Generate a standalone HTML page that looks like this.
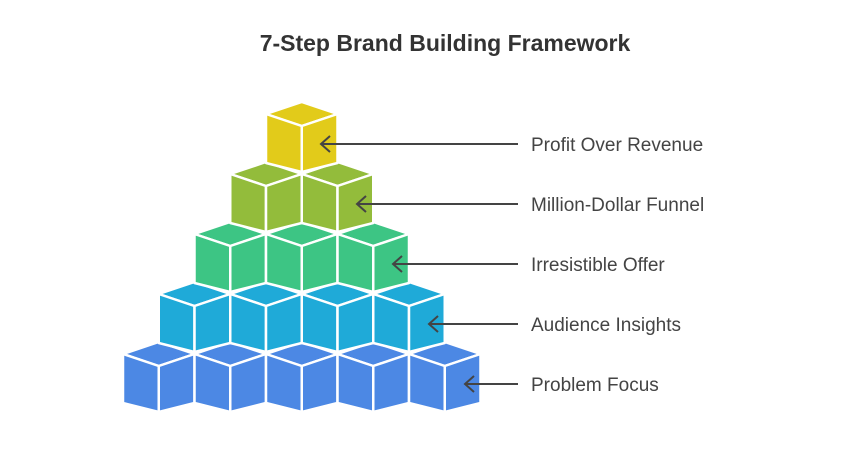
<!DOCTYPE html>
<html><head><meta charset="utf-8"><style>
html,body{margin:0;padding:0;background:#fff;}
svg{display:block;}
text{font-family:"Liberation Sans",sans-serif;}
</style></head><body>
<svg id="s" width="843" height="462" viewBox="0 0 843 462" xmlns="http://www.w3.org/2000/svg">
<text x="445" y="51" text-anchor="middle" font-size="23" font-weight="bold" fill="#333">7-Step Brand Building Framework</text>
<g id="cubes"></g>
<g stroke="#444" stroke-width="2" fill="none">
<line x1="321" y1="144" x2="518" y2="144"/><polyline points="330,136 321,144 330,152"/>
<line x1="357" y1="204" x2="518" y2="204"/><polyline points="366,196 357,204 366,212"/>
<line x1="393" y1="264" x2="518" y2="264"/><polyline points="402,256 393,264 402,272"/>
<line x1="429" y1="324" x2="518" y2="324"/><polyline points="438,316 429,324 438,332"/>
<line x1="465" y1="384" x2="518" y2="384"/><polyline points="474,376 465,384 474,392"/>
</g>
<g font-size="19" fill="#444">
<text x="531" y="151">Profit Over Revenue</text>
<text x="531" y="211">Million-Dollar Funnel</text>
<text x="531" y="271">Irresistible Offer</text>
<text x="531" y="331">Audience Insights</text>
<text x="531" y="391">Problem Focus</text>
</g>
</svg>
<script>
var colors=["#E2CB1A","#93BC3B","#3DC584","#1FAAD8","#4C88E4"];
var g=document.getElementById("cubes"),h="";
var W=71.5,hw=W/2;
for(var i=4;i>=0;i--){
 var y=102+60*i,x0=266-hw*i,c=colors[i];
 for(var j=0;j<=i;j++){
  var x=x0+W*j,m=x+hw,r=x+W;
  var p=function(pts){h+='<polygon points="'+pts+'" fill="'+c+'" stroke="#fff" stroke-width="2.5" stroke-linejoin="round"/>';};
  p(x+","+(y+12)+" "+m+","+y+" "+r+","+(y+12)+" "+m+","+(y+24));
  p(x+","+(y+12)+" "+m+","+(y+24)+" "+m+","+(y+70)+" "+x+","+(y+61));
  p(m+","+(y+24)+" "+r+","+(y+12)+" "+r+","+(y+61)+" "+m+","+(y+70));
 }
}
g.innerHTML=h;
</script>
</body></html>
